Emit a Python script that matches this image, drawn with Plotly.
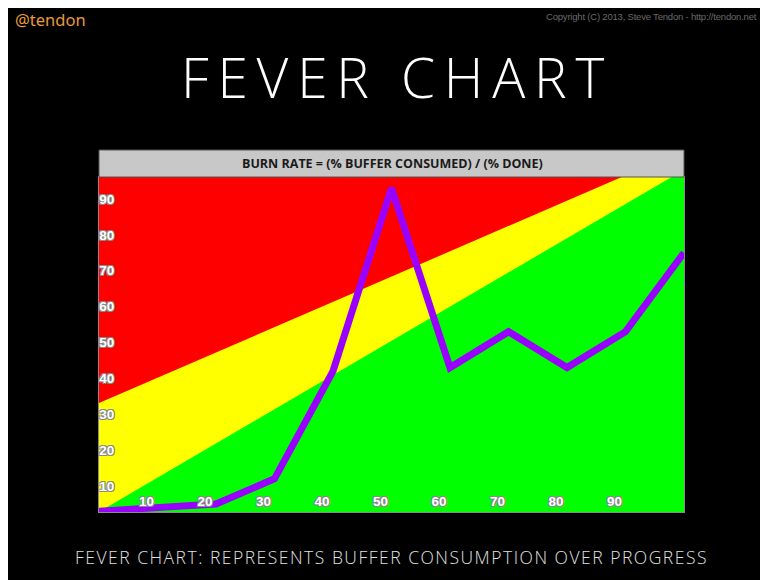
import plotly.graph_objects as go

# ---- data ----
progress_pct = [0, 20, 30, 40, 50, 60, 70, 80, 90, 100]
buffer_pct = [3, 5, 12, 42, 93, 43, 53, 43, 53, 75]

zone_x = [0, 100]
green_upper = [2.8, 98.1]     # green / yellow boundary
yellow_upper = [33.1, 103.6]  # yellow / red boundary

x_ticks = [10, 20, 30, 40, 50, 60, 70, 80, 90]
y_ticks = [10, 20, 30, 40, 50, 60, 70, 80, 90]

Y_RANGE = [2.76, 96.1]
X_RANGE = [0, 100]

# figure sits at an 8px page offset
OFF = 8
W, H = 754, 572
L, R, T, B = 91, 78, 169, 68
PW, PH = W - L - R, H - T - B


def px(p):
    """page pixel x -> paper coordinate"""
    return (p - OFF - L) / PW


def py(q):
    """page pixel y -> paper coordinate"""
    return (H - B - (q - OFF)) / PH


def spaced(text, ls):
    return f'<span style="letter-spacing:{ls}px">{text}</span>'


fig = go.Figure()

fig.add_trace(go.Scatter(x=zone_x, y=yellow_upper, mode="lines", line=dict(width=0),
                         fill="tozeroy", fillcolor="#ffff00", hoverinfo="skip", showlegend=False))
fig.add_trace(go.Scatter(x=zone_x, y=green_upper, mode="lines", line=dict(width=0),
                         fill="tozeroy", fillcolor="#00ff00", hoverinfo="skip", showlegend=False))
fig.add_trace(go.Scatter(x=progress_pct, y=buffer_pct, mode="lines",
                         line=dict(color="#9900ff", width=7), showlegend=False))

tick_font = dict(family="Liberation Sans", size=13.5, color="white", weight="bold",
                 shadow="-1px -1px 0 #8a8a8a, 1px -1px 0 #8a8a8a, -1px 1px 0 #8a8a8a, 1px 1px 0 #8a8a8a")

fig.update_xaxes(range=X_RANGE, tickvals=x_ticks, ticktext=[str(v) for v in x_ticks],
                 ticklabelposition="inside left", ticklabelshift=-3, tickfont=tick_font,
                 ticks="", showgrid=False, zeroline=False, showline=True, mirror=True,
                 linecolor="#8a8a8a", linewidth=1, fixedrange=True)
fig.update_yaxes(range=Y_RANGE, tickvals=y_ticks, ticktext=[str(v) for v in y_ticks],
                 ticklabelposition="inside", tickfont=tick_font, ticks="",
                 showgrid=False, zeroline=False, showline=True, mirror=True,
                 linecolor="#8a8a8a", linewidth=1, fixedrange=True)

shapes = [
    # header bar
    dict(type="rect", xref="paper", yref="paper", x0=0, x1=1, y0=1.0, y1=py(150),
         fillcolor="#c8c8c8", line=dict(color="#555555", width=1), layer="above"),
]

annotations = [
    dict(text="BURN RATE = (% BUFFER CONSUMED) / (% DONE)", xref="paper", yref="paper",
         x=px(392), y=py(163.5), showarrow=False, xanchor="center", yanchor="middle",
         font=dict(family="Open Sans", size=12.5, color="#1a1a1a", weight="bold")),
    dict(text=spaced("FEVER CHART", 8.8), xref="paper", yref="paper", x=px(397), y=py(76),
         showarrow=False, xanchor="center", yanchor="middle",
         font=dict(family="Open Sans", size=55, color="white", weight=300)),
    dict(text=spaced("FEVER CHART: REPRESENTS BUFFER CONSUMPTION OVER PROGRESS", 1.5),
         xref="paper", yref="paper", x=px(391), y=py(557), showarrow=False,
         xanchor="center", yanchor="middle",
         font=dict(family="Open Sans", size=17.5, color="#e0e0e0", weight=300)),
    dict(text="@tendon", xref="paper", yref="paper", x=px(13), y=py(19), showarrow=False,
         xanchor="left", yanchor="middle",
         font=dict(family="Noto Sans", size=16.5, color="#e89a3c")),
    dict(text=spaced("Copyright (C) 2013, Steve Tendon - http://tendon.net", -0.2),
         xref="paper", yref="paper", x=px(759), y=py(16), showarrow=False, xanchor="right",
         yanchor="middle", font=dict(family="Liberation Sans", size=9.5, color="#6a6a6a")),
]

fig.update_layout(width=W, height=H, margin=dict(l=L, r=R, t=T, b=B, pad=0),
                  paper_bgcolor="black", plot_bgcolor="#ff0000",
                  shapes=shapes, annotations=annotations, showlegend=False)

fig.write_html("out.html")
